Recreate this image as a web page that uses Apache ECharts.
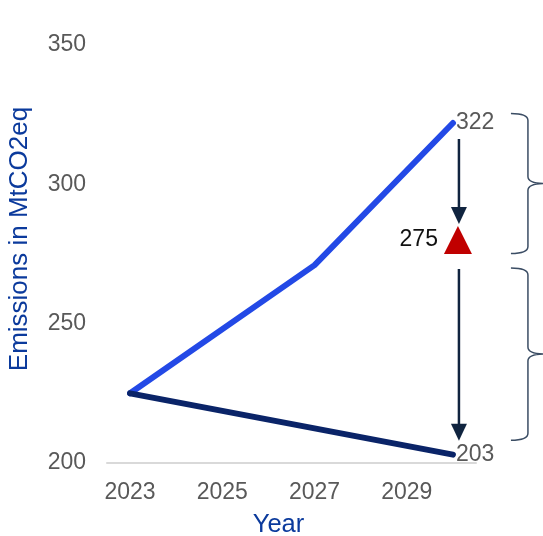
<!DOCTYPE html>
<html>
<head>
<meta charset="utf-8">
<script src="https://cdn.jsdelivr.net/npm/echarts@6/dist/echarts.min.js"></script>
<style>html,body{margin:0;padding:0;background:#fff}#c{width:543px;height:536px}</style>
</head>
<body>
<div id="c"></div>
<script>
// Data
const xTicks = [2023, 2025, 2027, 2029];
const highYears = [2023, 2027, 2030];
const highValues = [225, 271, 322];
const lowYears = [2023, 2030];
const lowValues = [225, 203];
const targetYear = 2030;
const targetValue = 275;
const gapSegments = [[2030, 322, 275], [2030, 275, 203]];

const FONT = '"Liberation Sans", Arial, sans-serif';
const chart = echarts.init(document.getElementById('c'), null, {renderer: 'canvas'});

function pairs(xs, ys) { return xs.map((x, i) => [x, ys[i]]); }

const endLabel = {
  show: true,
  formatter: p => String(p.value[1]),
  color: '#595959',
  fontSize: 23,
  fontFamily: FONT,
  distance: 3
};

const option = {
  animation: false,
  backgroundColor: '#fff',
  grid: {left: 107, right: 67, top: 45, bottom: 73, containLabel: false, outerBoundsMode: 'none'},
  xAxis: {
    type: 'value', min: 2022.5, max: 2030.5,
    name: 'Year', nameLocation: 'middle', nameGap: 49,
    nameTextStyle: {color: '#0B3A9C', fontSize: 25.5, fontFamily: FONT, padding: [0, 26, 0, 0]},
    axisLine: {show: true, lineStyle: {color: '#d9d9d9', width: 2}},
    axisTick: {show: false},
    splitLine: {show: false},
    axisLabel: {customValues: xTicks, color: '#595959', fontSize: 23, fontFamily: FONT, margin: 18, formatter: v => String(v)}
  },
  yAxis: {
    type: 'value', min: 200, max: 350, interval: 50,
    name: 'Emissions in MtCO2eq', nameLocation: 'middle', nameGap: 74,
    nameTextStyle: {color: '#0B3A9C', fontSize: 26, fontFamily: FONT, padding: [0, 0, 0, 30]},
    axisLine: {show: false}, axisTick: {show: false}, splitLine: {show: false},
    axisLabel: {color: '#595959', fontSize: 23, fontFamily: FONT, margin: 21}
  },
  series: [
    {
      type: 'line', data: pairs(highYears, highValues), symbol: 'none',
      lineStyle: {color: '#2349E6', width: 6, cap: 'round', join: 'round'},
      endLabel: endLabel, z: 3
    },
    {
      type: 'line', data: pairs(lowYears, lowValues), symbol: 'none',
      lineStyle: {color: '#0A2468', width: 6, cap: 'round', join: 'round'},
      endLabel: endLabel, z: 4
    },
    {
      type: 'scatter', data: [[targetYear, targetValue]],
      symbol: 'triangle', symbolSize: 28, symbolOffset: [5, -14],
      itemStyle: {color: '#C00000', opacity: 1},
      label: {show: true, position: 'left', distance: 6, formatter: p => String(p.value[1]),
        color: '#111', fontSize: 23, fontFamily: FONT},
      z: 5
    },
    {
      type: 'custom', data: gapSegments, z: 6,
      renderItem: function (params, api) {
        const i = params.dataIndex;
        const a = api.coord([api.value(0), api.value(1)]);
        const b = api.coord([api.value(0), api.value(2)]);
        const x = a[0] + 6;
        const y1 = a[1] + (i === 0 ? 16 : 15);
        const y2 = b[1] - (i === 0 ? 30 : 14);
        const children = [
          {type: 'line', shape: {x1: x, y1: y1, x2: x, y2: y2 - 12},
            style: {stroke: '#10243F', lineWidth: 2.5}},
          {type: 'polygon', shape: {points: [[x - 8, y2 - 17], [x + 8, y2 - 17], [x, y2]]},
            style: {fill: '#10243F'}}
        ];
        const top = a[1] + (i === 0 ? -9.5 : 14);
        const bot = b[1] + (i === 0 ? -0.5 : -14.5);
        const mid = (top + bot) / 2;
        const x0 = a[0] + 58, xv = x0 + 17, tip = x0 + 34, r = 7;
        const pd = 'M' + x0 + ' ' + top +
          ' Q' + xv + ' ' + top + ' ' + xv + ' ' + (top + r) +
          ' L' + xv + ' ' + (mid - r) +
          ' Q' + xv + ' ' + mid + ' ' + tip + ' ' + mid +
          ' Q' + xv + ' ' + mid + ' ' + xv + ' ' + (mid + r) +
          ' L' + xv + ' ' + (bot - r) +
          ' Q' + xv + ' ' + bot + ' ' + x0 + ' ' + bot;
        children.push({type: 'path', shape: {pathData: pd},
          style: {stroke: '#3B4D64', lineWidth: 1.5, fill: 'none'}});
        return {type: 'group', children: children};
      }
    }
  ]
};
chart.setOption(option);
</script>
</body>
</html>
